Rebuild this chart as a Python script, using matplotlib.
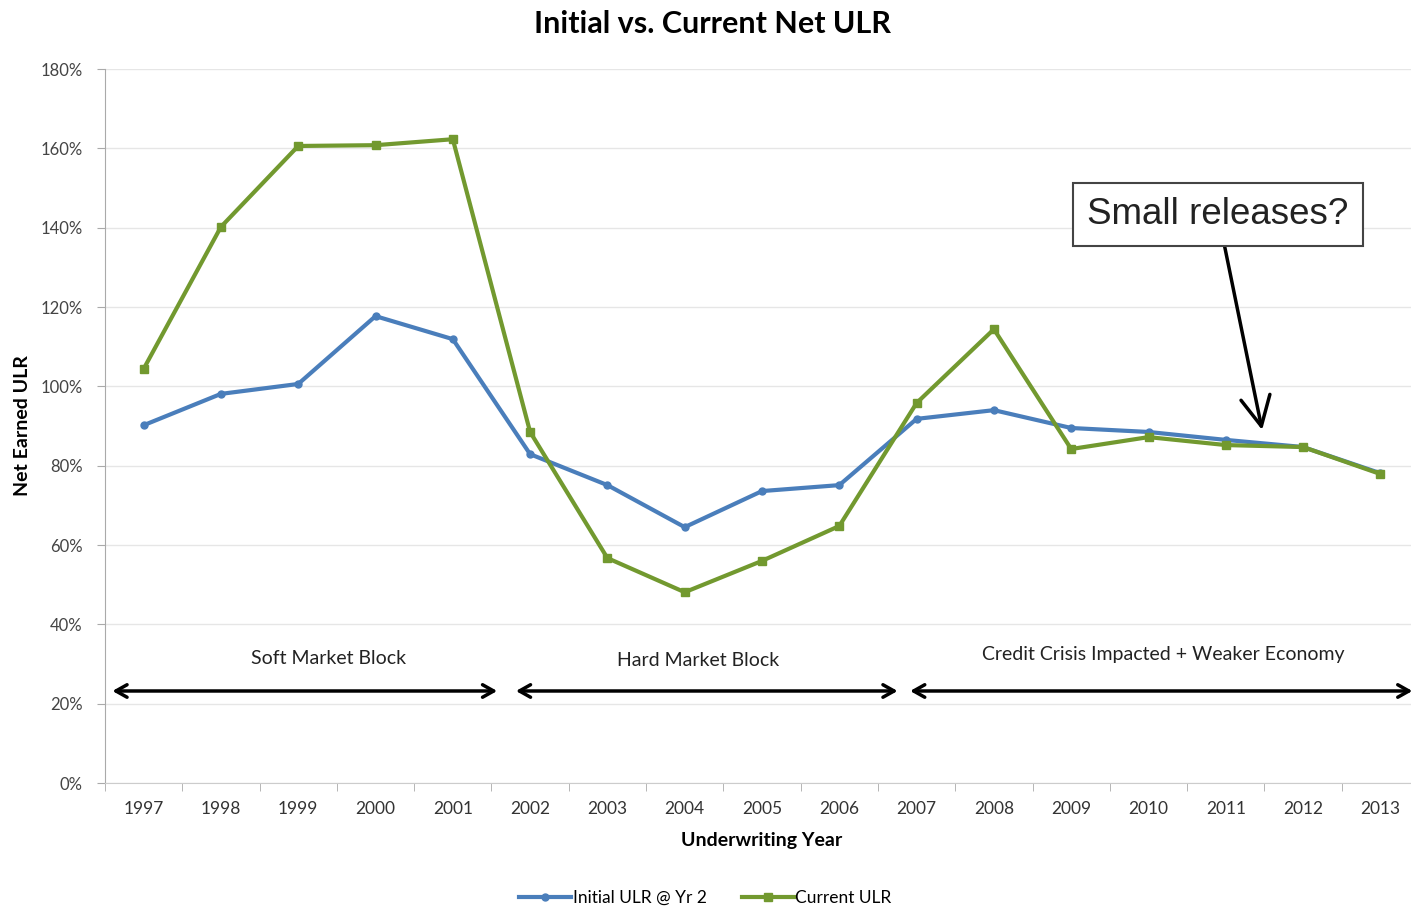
import matplotlib.pyplot as plt
from matplotlib.ticker import FixedLocator

# dados
anos = ['1997', '1998', '1999', '2000', '2001', '2002', '2003', '2004', '2005',
        '2006', '2007', '2008', '2009', '2010', '2011', '2012', '2013']
inicial = [90.2, 98.1, 100.6, 117.7, 111.9, 82.9, 75.1, 64.5, 73.6,
           75.1, 91.8, 94.0, 89.5, 88.5, 86.5, 84.7, 78.1]
atual = [104.4, 140.2, 160.6, 160.8, 162.3, 88.5, 56.7, 48.1, 56.0,
         64.8, 95.8, 114.4, 84.2, 87.2, 85.2, 84.7, 77.9]
y_ticks = [0, 20, 40, 60, 80, 100, 120, 140, 160, 180]

blocos = ['Soft Market Block', 'Hard Market Block',
          'Credit Crisis Impacted + Weaker Economy']
blocos_x = [2.39, 7.17, 13.19]
blocos_y = [31.5, 31.0, 32.5]
setas = [(-0.44, 4.61), (4.78, 9.79), (9.88, 16.45)]

plt.rcParams['font.family'] = ['Lato', 'DejaVu Sans']

fig = plt.figure(figsize=(14.11, 9.07), dpi=100)
ax = fig.add_axes([0.0744, 0.1367, 0.9313, 0.7872])

x = list(range(len(anos)))
azul = '#4A7EBB'
verde = '#72992F'
ax.plot(x, inicial, color=azul, lw=3.0, marker='o', ms=5, label='Initial ULR @ Yr 2', zorder=3)
ax.plot(x, atual, color=verde, lw=3.0, marker='s', ms=6, label='Current ULR', zorder=4)

ax.set_xlim(-0.5, len(anos) - 0.5)
ax.set_ylim(0, 180)
ax.set_xticks(x)
ax.set_xticklabels(anos, fontsize=12.5, color='#333333')
ax.xaxis.set_minor_locator(FixedLocator([i + 0.5 for i in range(-1, len(anos))]))
ax.tick_params(axis='x', which='major', length=0, pad=13)
ax.tick_params(axis='x', which='minor', length=6, color='#aaaaaa', direction='out')
ax.set_yticks(y_ticks)
ax.set_yticklabels([f'{v}%' for v in y_ticks], fontsize=12, color='#444444')
ax.tick_params(axis='y', length=6, color='#aaaaaa', pad=10)
ax.grid(axis='y', color='#e6e6e6', lw=1)
ax.set_axisbelow(True)
for s in ['top', 'right']:
    ax.spines[s].set_visible(False)
ax.spines['left'].set_color('#aaaaaa')
ax.spines['bottom'].set_color('#cccccc')

ax.set_xlabel('Underwriting Year', fontsize=14, fontweight='bold', labelpad=11)
fig.text(0.0156, 0.531, 'Net Earned ULR', rotation=90, ha='center', va='center',
         fontsize=14, fontweight='bold')
fig.text(0.505, 0.974, 'Initial vs. Current Net ULR', ha='center', va='center',
         fontsize=22, fontweight='bold')

for txt, tx, ty in zip(blocos, blocos_x, blocos_y):
    ax.text(tx, ty, txt, ha='center', va='center', fontsize=14, color='#222222')
for a, b in setas:
    ax.annotate('', xy=(b, 23.2), xytext=(a, 23.2), annotation_clip=False,
                arrowprops=dict(arrowstyle='<->,head_length=0.8,head_width=0.45', lw=2.5, color='black'))

ax.annotate('Small releases?', xy=(14.47, 89), xytext=(13.9, 143.4),
            ha='center', va='center', fontsize=26.5, family='Liberation Sans', color='#222222',
            bbox=dict(boxstyle='square,pad=0.38', fc='white', ec='#444444', lw=1.5),
            arrowprops=dict(arrowstyle='->,head_length=0.8,head_width=0.4', lw=2.5, color='black',
                            shrinkA=0, shrinkB=0))

fig.legend(loc='lower center', bbox_to_anchor=(0.5, -0.016), ncol=2, frameon=False,
           fontsize=12.5, handlelength=3, columnspacing=2, handletextpad=0.1)

fig.savefig('out.png', dpi=100)
